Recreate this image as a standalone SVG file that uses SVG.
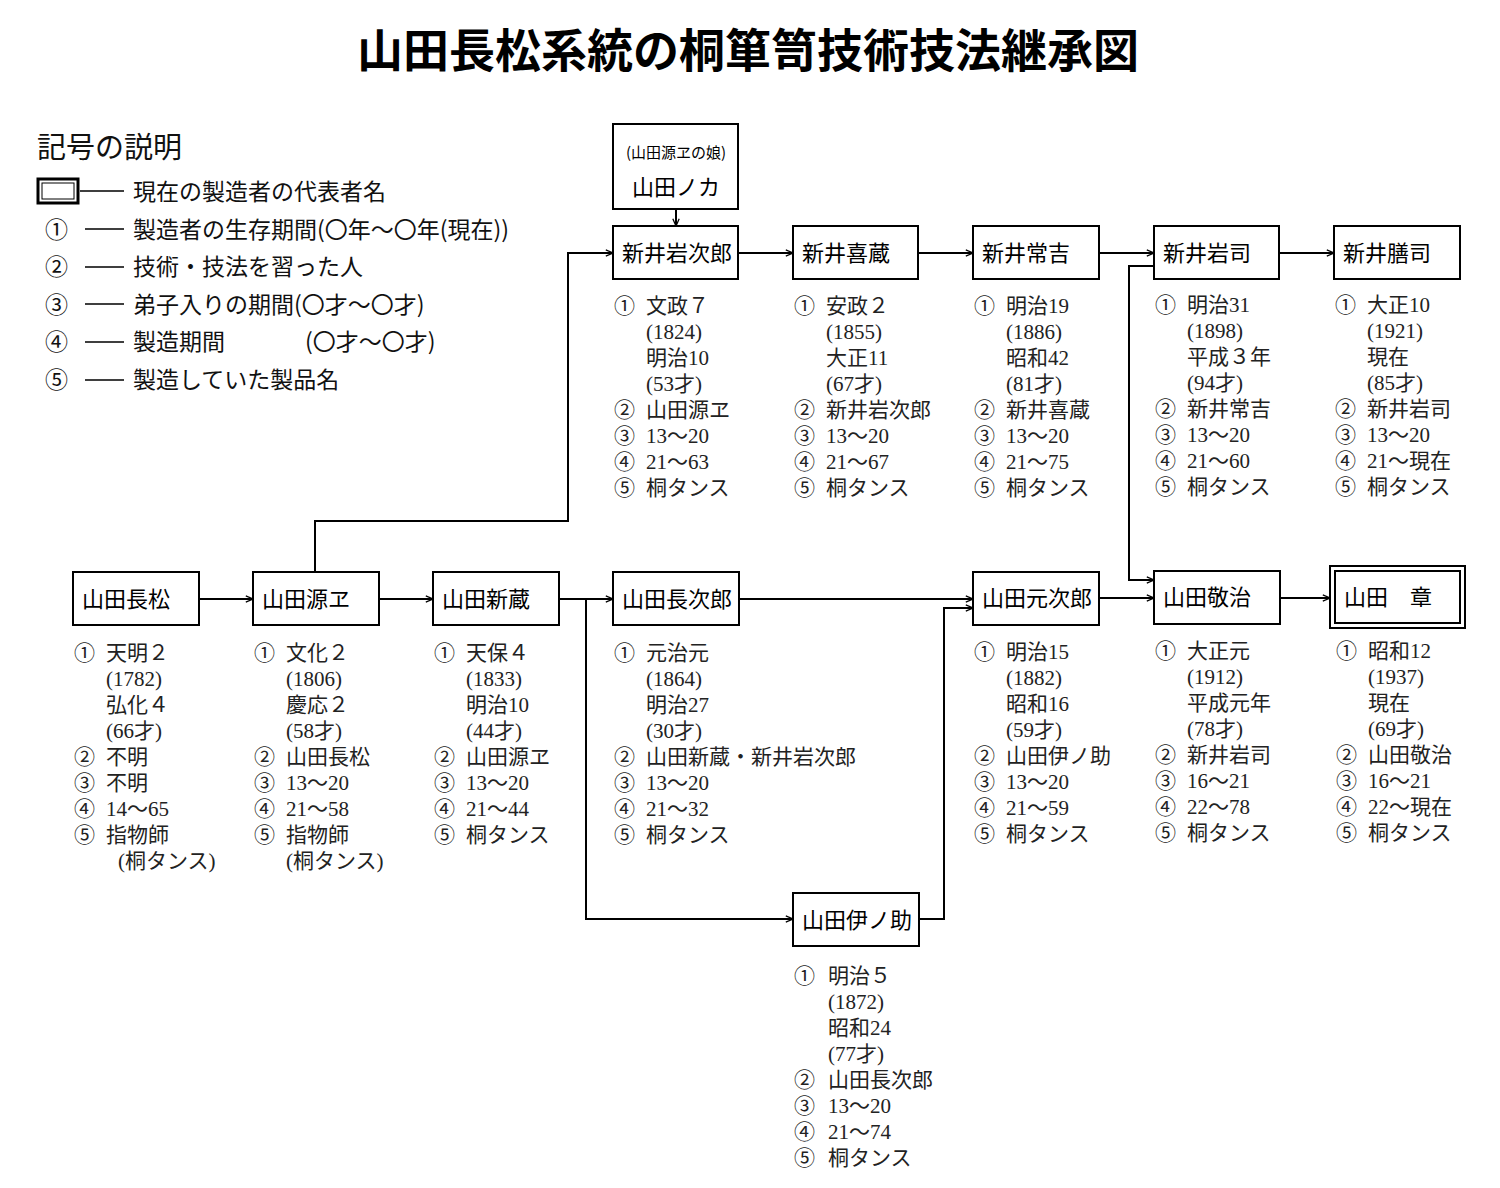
<svg xmlns="http://www.w3.org/2000/svg" width="1500" height="1188" viewBox="0 0 1500 1188">
<style>
.bx{fill:#fff;stroke:#000;stroke-width:2}
.nm{font-family:"Noto Sans CJK JP",sans-serif;font-size:22px;fill:#000}
.sm{font-family:"Noto Sans CJK JP",sans-serif;font-size:15px;fill:#000}
.inf{font-family:"Liberation Serif","Noto Sans CJK JP",serif;font-size:21px;fill:#222}
.lg{font-family:"Noto Sans CJK JP",sans-serif;font-size:23px;fill:#111}
.c{fill:none;stroke:#000;stroke-width:2}
</style>
<defs><marker id="a" viewBox="0 0 10 10" refX="10" refY="5" markerWidth="8" markerHeight="8" orient="auto" markerUnits="userSpaceOnUse"><path d="M1,1 L10,5 L1,9" fill="none" stroke="#000" stroke-width="1.6"/></marker></defs>
<rect width="1500" height="1188" fill="#fff"/>
<text x="748" y="67" text-anchor="middle" font-family="Noto Sans CJK JP,sans-serif" font-size="46" font-weight="bold">山田長松系統の桐箪笥技術技法継承図</text>
<g id="legend" class="lg">
<text x="37" y="158" font-size="29">記号の説明</text>
<rect x="38" y="179" width="40" height="24" fill="none" stroke="#000" stroke-width="3"/><rect x="42" y="183" width="32" height="16" fill="none" stroke="#000" stroke-width="1"/>
<path d="M80,191 H124 M85,229 H124 M85,267 H124 M85,304 H124 M85,342 H124 M85,380 H124" stroke="#000" stroke-width="1.5"/>
<text x="133" y="200">現在の製造者の代表者名</text>
<text x="45" y="238">①</text><text x="133" y="238">製造者の生存期間(〇年～〇年(現在))</text>
<text x="45" y="275">②</text><text x="133" y="275">技術・技法を習った人</text>
<text x="45" y="313">③</text><text x="133" y="313">弟子入りの期間(〇才～〇才)</text>
<text x="45" y="350">④</text><text x="133" y="350">製造期間</text><text x="305" y="350">(〇才～〇才)</text>
<text x="45" y="388">⑤</text><text x="133" y="388">製造していた製品名</text>
</g>
<g id="connectors" class="c">
<path d="M676,209 V226" marker-end="url(#a)"/>
<path d="M738,253 H793" marker-end="url(#a)"/>
<path d="M918,253 H973" marker-end="url(#a)"/>
<path d="M1099,253 H1154" marker-end="url(#a)"/>
<path d="M1279,253 H1334" marker-end="url(#a)"/>
<path d="M315,572 V521 H568 V253 H613" marker-end="url(#a)"/>
<path d="M199,599 H253" marker-end="url(#a)"/>
<path d="M379,599 H433" marker-end="url(#a)"/>
<path d="M559,599 H613" marker-end="url(#a)"/>
<path d="M586,599 V919 H793" marker-end="url(#a)"/>
<path d="M739,599 H973" marker-end="url(#a)"/>
<path d="M919,919 H944 V608 H973" marker-end="url(#a)"/>
<path d="M1099,598 H1154" marker-end="url(#a)"/>
<path d="M1154,266 H1129 V580 H1154" marker-end="url(#a)"/>
<path d="M1280,598 H1330" marker-end="url(#a)"/>
</g>
<g id="noka"><rect class="bx" x="613" y="124" width="125" height="85"/><text x="676" y="158" text-anchor="middle" class="sm">(山田源ヱの娘)</text><text x="676" y="195" text-anchor="middle" class="nm">山田ノカ</text></g>
<g id="iwajiro"><rect class="bx" x="613" y="226" width="125" height="53"/><text x="622" y="261" class="nm">新井岩次郎</text>
<text class="inf"><tspan x="614" y="313">①</tspan><tspan x="646">文政７</tspan><tspan x="646" y="339">(1824)</tspan><tspan x="646" y="365">明治10</tspan><tspan x="646" y="391">(53才)</tspan><tspan x="614" y="417">②</tspan><tspan x="646">山田源ヱ</tspan><tspan x="614" y="443">③</tspan><tspan x="646">13～20</tspan><tspan x="614" y="469">④</tspan><tspan x="646">21～63</tspan><tspan x="614" y="495">⑤</tspan><tspan x="646">桐タンス</tspan></text></g>
<g id="kizo"><rect class="bx" x="793" y="226" width="125" height="53"/><text x="802" y="261" class="nm">新井喜蔵</text>
<text class="inf"><tspan x="794" y="313">①</tspan><tspan x="826">安政２</tspan><tspan x="826" y="339">(1855)</tspan><tspan x="826" y="365">大正11</tspan><tspan x="826" y="391">(67才)</tspan><tspan x="794" y="417">②</tspan><tspan x="826">新井岩次郎</tspan><tspan x="794" y="443">③</tspan><tspan x="826">13～20</tspan><tspan x="794" y="469">④</tspan><tspan x="826">21～67</tspan><tspan x="794" y="495">⑤</tspan><tspan x="826">桐タンス</tspan></text></g>
<g id="tsunekichi"><rect class="bx" x="973" y="226" width="126" height="53"/><text x="982" y="261" class="nm">新井常吉</text>
<text class="inf"><tspan x="974" y="313">①</tspan><tspan x="1006">明治19</tspan><tspan x="1006" y="339">(1886)</tspan><tspan x="1006" y="365">昭和42</tspan><tspan x="1006" y="391">(81才)</tspan><tspan x="974" y="417">②</tspan><tspan x="1006">新井喜蔵</tspan><tspan x="974" y="443">③</tspan><tspan x="1006">13～20</tspan><tspan x="974" y="469">④</tspan><tspan x="1006">21～75</tspan><tspan x="974" y="495">⑤</tspan><tspan x="1006">桐タンス</tspan></text></g>
<g id="iwaji"><rect class="bx" x="1154" y="226" width="125" height="53"/><text x="1163" y="261" class="nm">新井岩司</text>
<text class="inf"><tspan x="1155" y="312">①</tspan><tspan x="1187">明治31</tspan><tspan x="1187" y="338">(1898)</tspan><tspan x="1187" y="364">平成３年</tspan><tspan x="1187" y="390">(94才)</tspan><tspan x="1155" y="416">②</tspan><tspan x="1187">新井常吉</tspan><tspan x="1155" y="442">③</tspan><tspan x="1187">13～20</tspan><tspan x="1155" y="468">④</tspan><tspan x="1187">21～60</tspan><tspan x="1155" y="494">⑤</tspan><tspan x="1187">桐タンス</tspan></text></g>
<g id="zenji"><rect class="bx" x="1334" y="226" width="126" height="53"/><text x="1343" y="261" class="nm">新井膳司</text>
<text class="inf"><tspan x="1335" y="312">①</tspan><tspan x="1367">大正10</tspan><tspan x="1367" y="338">(1921)</tspan><tspan x="1367" y="364">現在</tspan><tspan x="1367" y="390">(85才)</tspan><tspan x="1335" y="416">②</tspan><tspan x="1367">新井岩司</tspan><tspan x="1335" y="442">③</tspan><tspan x="1367">13～20</tspan><tspan x="1335" y="468">④</tspan><tspan x="1367">21～現在</tspan><tspan x="1335" y="494">⑤</tspan><tspan x="1367">桐タンス</tspan></text></g>
<g id="chosho"><rect class="bx" x="73" y="572" width="126" height="53"/><text x="82" y="607" class="nm">山田長松</text>
<text class="inf"><tspan x="74" y="660">①</tspan><tspan x="106">天明２</tspan><tspan x="106" y="686">(1782)</tspan><tspan x="106" y="712">弘化４</tspan><tspan x="106" y="738">(66才)</tspan><tspan x="74" y="764">②</tspan><tspan x="106">不明</tspan><tspan x="74" y="790">③</tspan><tspan x="106">不明</tspan><tspan x="74" y="816">④</tspan><tspan x="106">14～65</tspan><tspan x="74" y="842">⑤</tspan><tspan x="106">指物師</tspan><tspan x="118" y="868">(桐タンス)</tspan></text></g>
<g id="gene"><rect class="bx" x="253" y="572" width="126" height="53"/><text x="262" y="607" class="nm">山田源ヱ</text>
<text class="inf"><tspan x="254" y="660">①</tspan><tspan x="286">文化２</tspan><tspan x="286" y="686">(1806)</tspan><tspan x="286" y="712">慶応２</tspan><tspan x="286" y="738">(58才)</tspan><tspan x="254" y="764">②</tspan><tspan x="286">山田長松</tspan><tspan x="254" y="790">③</tspan><tspan x="286">13～20</tspan><tspan x="254" y="816">④</tspan><tspan x="286">21～58</tspan><tspan x="254" y="842">⑤</tspan><tspan x="286">指物師</tspan><tspan x="286" y="868">(桐タンス)</tspan></text></g>
<g id="shinzo"><rect class="bx" x="433" y="572" width="126" height="53"/><text x="442" y="607" class="nm">山田新蔵</text>
<text class="inf"><tspan x="434" y="660">①</tspan><tspan x="466">天保４</tspan><tspan x="466" y="686">(1833)</tspan><tspan x="466" y="712">明治10</tspan><tspan x="466" y="738">(44才)</tspan><tspan x="434" y="764">②</tspan><tspan x="466">山田源ヱ</tspan><tspan x="434" y="790">③</tspan><tspan x="466">13～20</tspan><tspan x="434" y="816">④</tspan><tspan x="466">21～44</tspan><tspan x="434" y="842">⑤</tspan><tspan x="466">桐タンス</tspan></text></g>
<g id="chojiro"><rect class="bx" x="613" y="572" width="126" height="53"/><text x="622" y="607" class="nm">山田長次郎</text>
<text class="inf"><tspan x="614" y="660">①</tspan><tspan x="646">元治元</tspan><tspan x="646" y="686">(1864)</tspan><tspan x="646" y="712">明治27</tspan><tspan x="646" y="738">(30才)</tspan><tspan x="614" y="764">②</tspan><tspan x="646">山田新蔵・新井岩次郎</tspan><tspan x="614" y="790">③</tspan><tspan x="646">13～20</tspan><tspan x="614" y="816">④</tspan><tspan x="646">21～32</tspan><tspan x="614" y="842">⑤</tspan><tspan x="646">桐タンス</tspan></text></g>
<g id="motojiro"><rect class="bx" x="973" y="572" width="126" height="53"/><text x="982" y="606" class="nm">山田元次郎</text>
<text class="inf"><tspan x="974" y="659">①</tspan><tspan x="1006">明治15</tspan><tspan x="1006" y="685">(1882)</tspan><tspan x="1006" y="711">昭和16</tspan><tspan x="1006" y="737">(59才)</tspan><tspan x="974" y="763">②</tspan><tspan x="1006">山田伊ノ助</tspan><tspan x="974" y="789">③</tspan><tspan x="1006">13～20</tspan><tspan x="974" y="815">④</tspan><tspan x="1006">21～59</tspan><tspan x="974" y="841">⑤</tspan><tspan x="1006">桐タンス</tspan></text></g>
<g id="keiji"><rect class="bx" x="1154" y="571" width="126" height="53"/><text x="1163" y="605" class="nm">山田敬治</text>
<text class="inf"><tspan x="1155" y="658">①</tspan><tspan x="1187">大正元</tspan><tspan x="1187" y="684">(1912)</tspan><tspan x="1187" y="710">平成元年</tspan><tspan x="1187" y="736">(78才)</tspan><tspan x="1155" y="762">②</tspan><tspan x="1187">新井岩司</tspan><tspan x="1155" y="788">③</tspan><tspan x="1187">16～21</tspan><tspan x="1155" y="814">④</tspan><tspan x="1187">22～78</tspan><tspan x="1155" y="840">⑤</tspan><tspan x="1187">桐タンス</tspan></text></g>
<g id="akira"><rect x="1330" y="566" width="135" height="62" fill="#fff" stroke="#000" stroke-width="2"/><rect x="1335" y="571" width="125" height="52" fill="none" stroke="#000" stroke-width="2"/><text x="1344" y="605" class="nm">山田　章</text>
<text class="inf"><tspan x="1336" y="658">①</tspan><tspan x="1368">昭和12</tspan><tspan x="1368" y="684">(1937)</tspan><tspan x="1368" y="710">現在</tspan><tspan x="1368" y="736">(69才)</tspan><tspan x="1336" y="762">②</tspan><tspan x="1368">山田敬治</tspan><tspan x="1336" y="788">③</tspan><tspan x="1368">16～21</tspan><tspan x="1336" y="814">④</tspan><tspan x="1368">22～現在</tspan><tspan x="1336" y="840">⑤</tspan><tspan x="1368">桐タンス</tspan></text></g>
<g id="inosuke"><rect class="bx" x="793" y="893" width="126" height="53"/><text x="802" y="928" class="nm">山田伊ノ助</text>
<text class="inf"><tspan x="794" y="983">①</tspan><tspan x="828">明治５</tspan><tspan x="828" y="1009">(1872)</tspan><tspan x="828" y="1035">昭和24</tspan><tspan x="828" y="1061">(77才)</tspan><tspan x="794" y="1087">②</tspan><tspan x="828">山田長次郎</tspan><tspan x="794" y="1113">③</tspan><tspan x="828">13～20</tspan><tspan x="794" y="1139">④</tspan><tspan x="828">21～74</tspan><tspan x="794" y="1165">⑤</tspan><tspan x="828">桐タンス</tspan></text></g>
</svg>
